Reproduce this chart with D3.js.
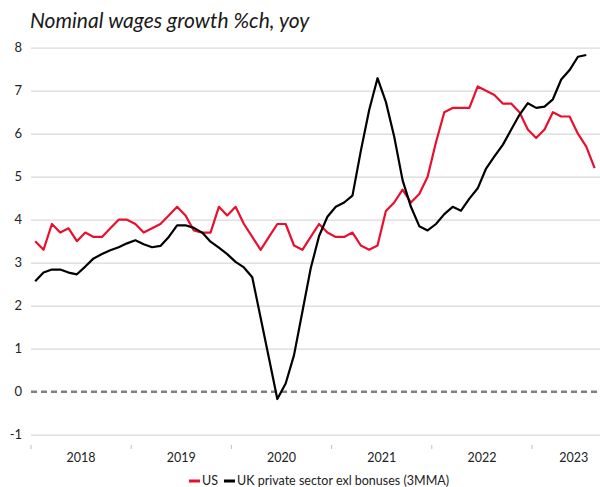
<!DOCTYPE html>
<html>
<head>
<meta charset="utf-8">
<script src="https://cdn.jsdelivr.net/npm/d3@7"></script>
<style>
  body { margin: 0; background: #fff; }
  svg { display: block; font-family: Lato, "Noto Sans", sans-serif; }
</style>
</head>
<body>
<div id="chart"></div>
<script>
// --- Data (monthly, from Jan 2018) ---
const seriesNames = ["US", "UK private sector exl bonuses (3MMA)"];
const seriesColors = ["#e8102e", "#000000"];

const usWages = [
  3.5, 3.3, 3.9, 3.7, 3.8, 3.5, 3.7, 3.6, 3.6, 3.8, 4.0, 4.0,
  3.9, 3.7, 3.8, 3.9, 4.1, 4.3, 4.1, 3.75, 3.7, 3.7, 4.3, 4.1,
  4.3, 3.9, 3.6, 3.3, 3.6, 3.9, 3.9, 3.4, 3.3, 3.6, 3.9, 3.7,
  3.6, 3.6, 3.7, 3.4, 3.3, 3.4, 4.2, 4.4, 4.7, 4.4, 4.6, 5.0,
  5.8, 6.5, 6.6, 6.6, 6.6, 7.1, 7.0, 6.9, 6.7, 6.7, 6.5, 6.1,
  5.9, 6.1, 6.5, 6.4, 6.4, 6.0, 5.7, 5.2
];

const ukWages = [
  2.57, 2.77, 2.84, 2.84, 2.77, 2.73, 2.91, 3.10, 3.20, 3.29, 3.36, 3.45,
  3.52, 3.43, 3.36, 3.39, 3.60, 3.87, 3.87, 3.81, 3.70, 3.49, 3.35, 3.20,
  3.02, 2.89, 2.66, 1.72, 0.78, -0.17, 0.19, 0.85, 1.86, 2.87, 3.62, 4.07,
  4.30, 4.40, 4.56, 5.60, 6.55, 7.29, 6.74, 5.93, 4.92, 4.30, 3.85, 3.75,
  3.90, 4.13, 4.30, 4.21, 4.49, 4.73, 5.19, 5.47, 5.74, 6.09, 6.44, 6.71,
  6.60, 6.63, 6.80, 7.26, 7.48, 7.79, 7.83
];

const yTicks = [-1, 0, 1, 2, 3, 4, 5, 6, 7, 8];
const title = "Nominal wages growth %ch, yoy";

// --- Layout ---
const W = 600, H = 487;
const plotLeft = 31;
const monthStep = 8.35;
const axisMonths = d3.timeMonth.range(new Date(2018, 0, 1), new Date(2023, 10, 1));

const svg = d3.select("#chart").append("svg")
  .attr("width", W).attr("height", H);

const x = d3.scaleBand()
  .domain(axisMonths.map(d => +d))
  .range([plotLeft, plotLeft + axisMonths.length * monthStep]);

const y = d3.scaleLinear()
  .domain([-1, 8])
  .range([434.7, 47.7]);

const xm = i => x(+axisMonths[i]) + x.bandwidth() / 2;

// Title
svg.append("text")
  .attr("x", 30).attr("y", 28)
  .style("font-size", "21px")
  .style("font-style", "italic")
  .style("fill", "#1a1a1a")
  .text(title);

// Grid
svg.append("g")
  .attr("class", "grid")
  .attr("transform", `translate(${plotLeft},0)`)
  .call(d3.axisLeft(y).tickValues(yTicks.filter(d => d !== 0)).tickSize(-(W - plotLeft)).tickFormat(""))
  .call(g => g.select(".domain").remove())
  .call(g => g.selectAll("line").attr("stroke", "#d9d9d9").attr("stroke-width", 1.3));

// Y labels
svg.append("g")
  .selectAll("text")
  .data(yTicks)
  .join("text")
  .attr("x", 22)
  .attr("y", d => y(d))
  .attr("dy", "0.35em")
  .attr("text-anchor", "end")
  .style("font-size", "13px")
  .style("fill", "#222")
  .text(d => d);

// Zero line
svg.append("line")
  .attr("x1", plotLeft).attr("x2", W)
  .attr("y1", y(0)).attr("y2", y(0))
  .attr("stroke", "#808080")
  .attr("stroke-width", 2.5)
  .attr("stroke-dasharray", "6,4");

// X ticks and year labels
const years = d3.groups(axisMonths, d => d.getFullYear());
svg.append("g")
  .selectAll("line")
  .data(years)
  .join("line")
  .attr("x1", d => x(+d[1][0])).attr("x2", d => x(+d[1][0]))
  .attr("y1", 445).attr("y2", 449)
  .attr("stroke", "#bfbfbf")
  .attr("stroke-width", 1);

svg.append("g")
  .selectAll("text")
  .data(years)
  .join("text")
  .attr("x", d => (x(+d[1][0]) + x(+d[1][d[1].length - 1]) + x.bandwidth()) / 2)
  .attr("y", 462)
  .attr("text-anchor", "middle")
  .style("font-size", "12.5px")
  .style("fill", "#222")
  .text(d => d[0]);

// Lines
const line = d3.line()
  .x((d, i) => xm(i))
  .y(d => y(d));

[usWages, ukWages].forEach((s, k) => {
  svg.append("path")
    .datum(s)
    .attr("fill", "none")
    .attr("stroke", seriesColors[k])
    .attr("stroke-width", 2.2)
    .attr("stroke-linejoin", "round")
    .attr("d", line);
});

// Legend
const legend = svg.append("g");
let lx = 0;
seriesNames.forEach((name, k) => {
  legend.append("line")
    .attr("x1", lx).attr("x2", lx + 11)
    .attr("y1", 0).attr("y2", 0)
    .attr("stroke", seriesColors[k])
    .attr("stroke-width", 3);
  const t = legend.append("text")
    .attr("x", lx + 13).attr("y", 0)
    .attr("dy", "0.35em")
    .style("font-size", "12.5px")
    .style("fill", "#222")
    .text(name);
  lx += 13 + t.node().getComputedTextLength() + 6;
});
legend.attr("transform", `translate(${319 - (lx - 6) / 2},481)`);
</script>
</body>
</html>
